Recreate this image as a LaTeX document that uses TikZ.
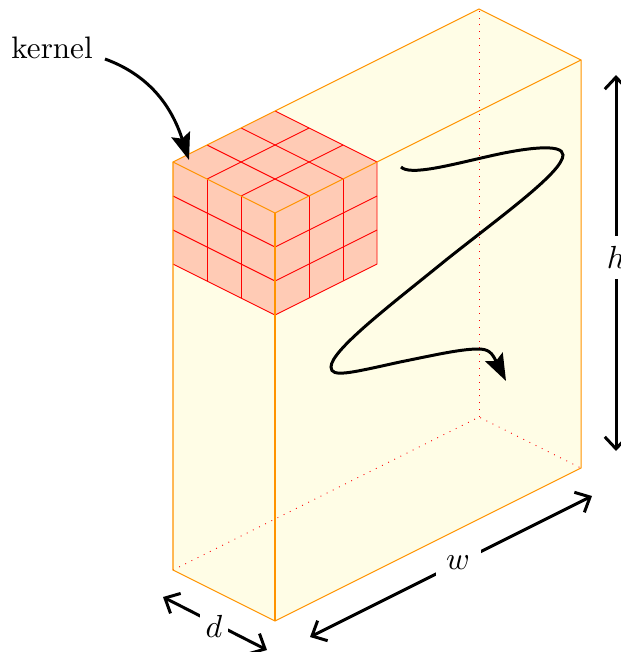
\documentclass[tikz,border=0pt]{standalone}
\usepackage{xcolor}
\usetikzlibrary{arrows.meta,positioning,calc}
\definecolor{boxfill}{HTML}{FFFDE6}
\definecolor{kernelfill}{HTML}{FFCBB5}
\begin{document}
\begin{tikzpicture}[
	x=0.011765cm, y=-0.011765cm,
	boxedge/.style={draw=orange!85!yellow, line width=0.34pt},
	grid/.style={draw=red, line width=0.3pt},
	hidden/.style={draw=red, line width=0.3pt, dotted},
	dim/.style={{Straight Barb[length=4pt,width=7.5pt]}-{Straight Barb[length=4pt,width=7.5pt]}, line width=1pt},
	dimlabel/.style={fill=white, scale=1.07, transform shape},
	arr/.style={-{Stealth[length=9pt,width=6.5pt,inset=1.5pt]}, line width=1pt}
	]
	\useasboundingbox (0,0) rectangle (621,652);
	\begin{scope}[shift={(173,570)}, x={(0.4cm,-0.2cm)}, y={(0.4cm,0.2cm)}, z={(0cm,0.4cm)}]
		\fill[boxfill] (0,0,0) -- (3,0,0) -- (3,9,0) -- (3,9,12) -- (0,9,12) -- (0,0,12) -- cycle;
		\draw[hidden] (0,0,0) -- (0,9,0) -- (3,9,0);
		\draw[hidden] (0,9,0) -- (0,9,12);
		\fill[kernelfill] (0,0,9) -- (3,0,9) -- (3,3,9) -- (3,3,12) -- (0,3,12) -- (0,0,12) -- cycle;
		\foreach \t in {1,2} {
			\draw[grid] (\t,0,12) -- (\t,3,12);
			\draw[grid] (0,\t,12) -- (3,\t,12);
			\draw[grid] (\t,0,9) -- (\t,0,12);
			\draw[grid] (0,0,9+\t) -- (3,0,9+\t);
			\draw[grid] (3,\t,9) -- (3,\t,12);
			\draw[grid] (3,0,9+\t) -- (3,3,9+\t);
		}
		\draw[grid] (0,0,9) -- (3,0,9) -- (3,3,9) -- (3,3,12) -- (0,3,12);
		\draw[boxedge] (0,0,0) -- (3,0,0) -- (3,9,0) -- (3,9,12) -- (0,9,12) -- (0,0,12) -- cycle;
		\draw[boxedge] (0,0,12) -- (3,0,12) -- (3,9,12);
		\draw[boxedge] (3,0,12) -- (3,0,0);
	\end{scope}
	\node[scale=1.04, transform shape] (kernel) at (52,48) {kernel};
	\coordinate (kernelstart) at (105,59);
	\coordinate (kerneltip) at (189,160);
	\draw[arr] (kernelstart) to[out=-20, in=108] (kerneltip);
	\coordinate (hs) at (616,75);
	\coordinate (he) at (616,451);
	\coordinate (ws) at (310,637);
	\coordinate (we) at (592,496);
	\coordinate (ds) at (163,597);
	\coordinate (de) at (267,650);
	\draw[dim] (hs) -- node[dimlabel, pos=0.485] (hlabel) {$h$} (he);
	\draw[dim] (ws) -- node[dimlabel, pos=0.525] (wlabel) {$w$} (we);
	\draw[dim] (ds) -- node[dimlabel, pos=0.49, yshift=-1pt, inner sep=1.8pt] (dlabel) {$d$} (de);
	\coordinate (scanstart) at (401,167);
	\coordinate (scanend) at (506,381);
	\draw[arr] (scanstart)
		.. controls (410,176) and (450,165) .. (490,156)
		.. controls (525,148) and (563,143) .. (563,155)
		.. controls (563,172) and (500,217) .. (446,260)
		.. controls (392,304) and (331,350) .. (331,367)
		.. controls (331,378) and (350,373) .. (400,362)
		.. controls (430,356) and (460,349) .. (478,349)
		.. controls (489,349) and (492,353) .. (scanend);
\end{tikzpicture}
\end{document}
